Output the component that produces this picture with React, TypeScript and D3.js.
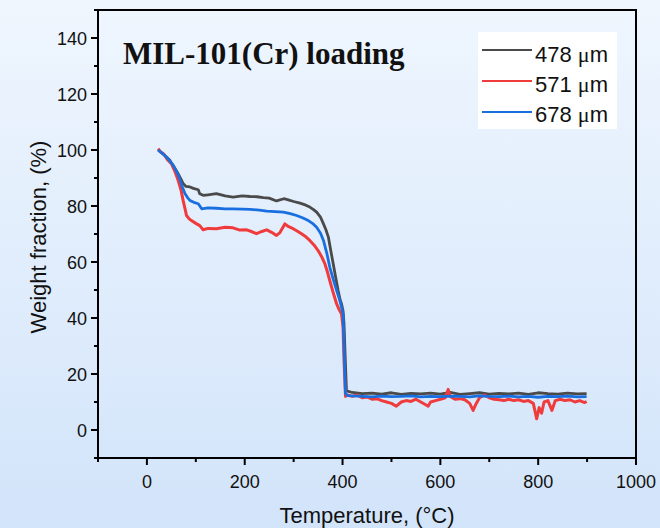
import { scaleLinear, line } from "d3";

// temperature (°C) and weight fraction (%)
const temp478 = [23, 30, 40, 47, 55, 64, 70, 74, 80, 88, 95, 105, 108, 115, 125, 142, 160, 176, 195, 211, 225, 238, 250, 265, 280, 289, 300, 313, 325, 333, 340, 347, 355, 361, 366, 371, 376, 381, 386, 391, 395, 398, 401, 403, 405, 408, 420, 440, 460, 480, 500, 520, 540, 560, 580, 600, 620, 640, 660, 680, 700, 720, 740, 760, 780, 800, 820, 840, 860, 880, 899];
const weight478 = [100, 99, 97.5, 96.3, 94, 91.5, 89.5, 88, 87, 86.8, 86.3, 85.8, 84.4, 83.8, 84, 84.4, 83.6, 83.2, 83.6, 83.4, 83.3, 83, 82.8, 81.8, 82.6, 82.2, 81.6, 81, 80.3, 79.6, 78.8, 77.8, 76, 73.6, 71.5, 68.9, 64, 59.3, 54.5, 49.8, 46.5, 45, 42.6, 38, 28, 14, 13.4, 13, 13.2, 12.8, 13.3, 12.7, 13.1, 12.9, 13.2, 12.8, 13.4, 12.7, 13, 13.3, 12.8, 13.1, 12.9, 13.2, 12.7, 13.3, 13, 12.8, 13.2, 12.9, 13];

const temp571 = [23, 27, 35, 42, 50, 57, 64, 70, 74, 78, 81, 86, 91, 100, 108, 115, 125, 142, 160, 176, 190, 204, 215, 224, 235, 245, 255, 265, 272, 282, 290, 299, 308, 316, 325, 333, 342, 350, 357, 364, 369, 374, 381, 388, 393, 398, 401, 403, 406, 410, 420, 430, 440, 450, 460, 470, 480, 490, 500, 510, 520, 530, 540, 550, 560, 570, 575, 580, 590, 600, 610, 616, 620, 630, 640, 650, 660, 667, 672, 680, 690, 700, 710, 720, 730, 740, 750, 760, 770, 780, 790, 797, 802, 807, 812, 820, 828, 835, 845, 855, 865, 875, 885, 895, 899];
const weight571 = [100.5, 99.5, 98.5, 96.5, 95.1, 92.5, 89.1, 85.5, 82, 79, 76.6, 75.5, 74.8, 73.8, 73, 71.5, 72, 71.9, 72.4, 72.2, 71.4, 71.5, 70.8, 70.1, 70.9, 71.5, 70.6, 69.5, 70.5, 73.6, 72.6, 71.9, 71, 70.1, 69, 67.7, 66, 64.1, 62, 59.3, 56.5, 53.3, 49, 45, 43, 41.4, 36.6, 25, 12, 12.5, 12, 12.5, 11.5, 11.8, 11, 11.2, 10.5, 10, 9.5, 8.5, 10, 10.5, 10.2, 11, 10, 9, 8.5, 10, 10.5, 11, 11.5, 14.5, 12, 11, 11.2, 10.8, 9.5, 7, 9, 11.5, 12.5, 11.5, 11, 10.8, 10.5, 11, 10.5, 10.8, 10.2, 10.5, 9.5, 4, 8, 6, 10, 10.5, 7, 10.5, 11, 10.5, 10.8, 10, 10.5, 9.8, 10.2];

const temp678 = [23, 30, 40, 47, 54, 60, 67, 72, 78, 83, 88, 96, 105, 112, 125, 142, 160, 176, 195, 211, 230, 245, 262, 279, 293, 306, 318, 330, 340, 347, 355, 361, 368, 374, 381, 388, 394, 398, 401, 403, 406, 410, 420, 440, 460, 480, 500, 520, 540, 560, 580, 600, 620, 640, 660, 680, 700, 720, 740, 760, 780, 800, 820, 840, 860, 880, 899];
const weight678 = [100, 99, 97.5, 96, 94.5, 92.5, 89.8, 87, 84.4, 83, 82, 81.3, 80.8, 79, 79.3, 79.2, 79, 79, 78.9, 78.8, 78.5, 78.2, 78, 77.8, 77.3, 76.6, 75.8, 74.8, 73.6, 72.4, 70.3, 67.7, 63, 58.1, 53.8, 49.8, 46.5, 43.8, 41.4, 30, 13, 12.3, 12.2, 12, 11.8, 12.1, 11.9, 12, 12.2, 11.8, 12, 11.9, 12.1, 12, 11.8, 12.2, 12, 11.9, 12.1, 11.8, 12, 11.7, 12, 11.9, 12.1, 11.8, 11.9];

const seriesSizes = ["478", "571", "678"];
const seriesColors = ["#4a4a4a", "#ef3b3b", "#1a6fe0"];

const xMajor = [0, 200, 400, 600, 800, 1000];
const xMinor = [-100, 100, 300, 500, 700, 900];
const yMajor = [0, 20, 40, 60, 80, 100, 120, 140];
const yMinor = [-10, 10, 30, 50, 70, 90, 110, 130, 150];

export default function App() {
  const W = 660;
  const H = 528;
  const left = 98, right = 636, top = 10, bottom = 458;

  const x = scaleLinear().domain([-100, 1000]).range([left, right]);
  const y = scaleLinear().domain([-10, 150]).range([bottom, top]);

  const temps = [temp478, temp571, temp678];
  const weights = [weight478, weight571, weight678];

  const gen = line<[number, number]>()
    .x((d) => x(d[0]))
    .y((d) => y(d[1]));

  const sans = "'Liberation Sans', Arial, sans-serif";
  const serif = "'Liberation Serif', 'Times New Roman', serif";

  return (
    <svg width={W} height={H} style={{ position: "absolute", left: 0, top: 0, display: "block" }}>
      <defs>
        <linearGradient id="bg" x1="0" y1="0" x2="0" y2="1">
          <stop offset="0" stopColor="#eff6fe" />
          <stop offset="1" stopColor="#d2e4fa" />
        </linearGradient>
        <clipPath id="plot">
          <rect x={left} y={top} width={right - left} height={bottom - top} />
        </clipPath>
      </defs>
      <rect x={0} y={0} width={W} height={H} fill="url(#bg)" />

      {/* curves */}
      <g clipPath="url(#plot)" fill="none" strokeLinejoin="round">
        {temps.map((t, i) => (
          <path
            key={i}
            d={gen(t.map((v, j) => [v, weights[i][j]] as [number, number])) || ""}
            stroke={seriesColors[i]}
            strokeWidth={i === 1 ? 3 : 2.8}
          />
        ))}
      </g>

      {/* frame */}
      <rect x={left} y={top} width={right - left} height={bottom - top} fill="none" stroke="#000" strokeWidth={2} />

      {/* x axis */}
      {xMajor.map((v) => (
        <g key={"xm" + v}>
          <line x1={x(v)} x2={x(v)} y1={bottom} y2={bottom + 7} stroke="#000" strokeWidth={2} />
          <text x={x(v)} y={bottom + 30} textAnchor="middle" fontFamily={sans} fontSize={18} fill="#111">
            {v}
          </text>
        </g>
      ))}
      {xMinor.map((v) => (
        <line key={"xn" + v} x1={x(v)} x2={x(v)} y1={bottom} y2={bottom + 4} stroke="#000" strokeWidth={2} />
      ))}

      {/* y axis */}
      {yMajor.map((v) => (
        <g key={"ym" + v}>
          <line x1={left - 7} x2={left} y1={y(v)} y2={y(v)} stroke="#000" strokeWidth={2} />
          <text x={left - 11} y={y(v) + 6.5} textAnchor="end" fontFamily={sans} fontSize={18} fill="#111">
            {v}
          </text>
        </g>
      ))}
      {yMinor.map((v) => (
        <line key={"yn" + v} x1={left - 4} x2={left} y1={y(v)} y2={y(v)} stroke="#000" strokeWidth={2} />
      ))}

      <text x={(left + right) / 2} y={523} textAnchor="middle" fontFamily={sans} fontSize={22} fill="#111">
        Temperature, (°C)
      </text>
      <text
        transform={`translate(46,237) rotate(-90)`}
        textAnchor="middle"
        fontFamily={sans}
        fontSize={22}
        fill="#111"
      >
        Weight fraction, (%)
      </text>

      {/* title */}
      <text x={123} y={64} fontFamily={serif} fontWeight="bold" fontSize={31} fill="#111">
        MIL-101(Cr) loading
      </text>

      {/* legend */}
      <rect x={478} y={32} width={139} height={97} fill="#fff" />
      {seriesSizes.map((n, i) => (
        <g key={n}>
          <line x1={482} x2={532} y1={50 + i * 31} y2={50 + i * 31} stroke={seriesColors[i]} strokeWidth={2.2} />
          <text x={535} y={62 + i * 30} fontFamily={sans} fontSize={22} fill="#111">
            {n + " "}
            <tspan fontFamily={serif}>{"\u03bc"}</tspan>
            m
          </text>
        </g>
      ))}
    </svg>
  );
}
